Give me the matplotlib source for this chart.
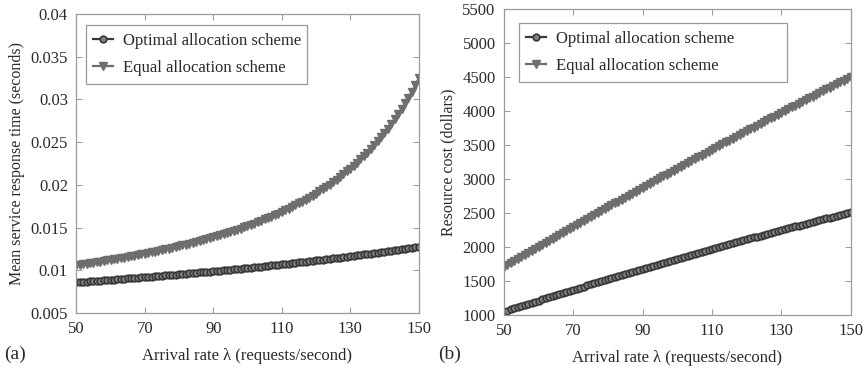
import numpy as np
import matplotlib.pyplot as plt

plt.rcParams['font.family'] = ['Liberation Serif', 'DejaVu Serif']

# arrival rate, one point per request/second
lam = np.arange(50, 151)

# mean service response time (seconds)
t_optimal = [0.008598, 0.008627, 0.008655, 0.008684, 0.008712, 0.008741, 0.008770, 0.008800, 0.008829, 0.008859,
             0.008889, 0.008919, 0.008949, 0.008980, 0.009011, 0.009042, 0.009073, 0.009104, 0.009136, 0.009168,
             0.009200, 0.009232, 0.009264, 0.009297, 0.009330, 0.009363, 0.009397, 0.009430, 0.009464, 0.009498,
             0.009533, 0.009568, 0.009603, 0.009638, 0.009673, 0.009709, 0.009745, 0.009781, 0.009817, 0.009854,
             0.009891, 0.009929, 0.009966, 0.010004, 0.010042, 0.010081, 0.010119, 0.010158, 0.010198, 0.010238,
             0.010277, 0.010318, 0.010358, 0.010399, 0.010441, 0.010482, 0.010524, 0.010566, 0.010609, 0.010652,
             0.010695, 0.010739, 0.010783, 0.010827, 0.010872, 0.010917, 0.010963, 0.011008, 0.011055, 0.011101,
             0.011148, 0.011196, 0.011244, 0.011292, 0.011340, 0.011390, 0.011439, 0.011489, 0.011539, 0.011590,
             0.011641, 0.011693, 0.011745, 0.011798, 0.011851, 0.011905, 0.011959, 0.012013, 0.012069, 0.012124,
             0.012180, 0.012237, 0.012294, 0.012352, 0.012410, 0.012469, 0.012528, 0.012588, 0.012649, 0.012710,
             0.012771]
t_equal = [0.010604, 0.010661, 0.010719, 0.010777, 0.010837, 0.010897, 0.010959, 0.011021, 0.011085, 0.011149,
           0.011215, 0.011282, 0.011350, 0.011419, 0.011490, 0.011561, 0.011634, 0.011708, 0.011784, 0.011861,
           0.011939, 0.012018, 0.012100, 0.012182, 0.012266, 0.012352, 0.012440, 0.012529, 0.012620, 0.012712,
           0.012807, 0.012903, 0.013001, 0.013101, 0.013203, 0.013307, 0.013414, 0.013522, 0.013633, 0.013746,
           0.013862, 0.013980, 0.014101, 0.014224, 0.014350, 0.014479, 0.014611, 0.014745, 0.014883, 0.015024,
           0.015169, 0.015317, 0.015468, 0.015623, 0.015782, 0.015945, 0.016112, 0.016283, 0.016458, 0.016639,
           0.016824, 0.017013, 0.017208, 0.017409, 0.017615, 0.017827, 0.018044, 0.018268, 0.018499, 0.018736,
           0.018981, 0.019233, 0.019492, 0.019761, 0.020037, 0.020323, 0.020618, 0.020922, 0.021237, 0.021563,
           0.021901, 0.022250, 0.022613, 0.022989, 0.023379, 0.023783, 0.024204, 0.024641, 0.025097, 0.025571,
           0.026065, 0.026581, 0.027119, 0.027682, 0.028272, 0.028889, 0.029535, 0.030213, 0.030926, 0.031677,
           0.032468]

# resource cost (dollars)
c_optimal = [1050, 1066, 1083, 1099, 1116, 1132, 1148, 1165, 1181, 1197,
             1213, 1229, 1245, 1261, 1277, 1293, 1309, 1325, 1341, 1357,
             1372, 1388, 1404, 1419, 1435, 1451, 1466, 1482, 1497, 1513,
             1528, 1543, 1559, 1574, 1589, 1604, 1619, 1634, 1650, 1665,
             1680, 1695, 1709, 1724, 1739, 1754, 1769, 1784, 1798, 1813,
             1828, 1842, 1857, 1871, 1886, 1900, 1914, 1929, 1943, 1957,
             1972, 1986, 2000, 2014, 2028, 2042, 2056, 2070, 2084, 2098,
             2112, 2126, 2140, 2153, 2167, 2181, 2194, 2208, 2221, 2235,
             2248, 2262, 2275, 2289, 2302, 2315, 2328, 2342, 2355, 2368,
             2381, 2394, 2407, 2420, 2433, 2446, 2459, 2472, 2485, 2497,
             2510]
c_equal = [1700, 1730, 1760, 1790, 1820, 1849, 1879, 1909, 1939, 1968,
           1998, 2028, 2057, 2087, 2116, 2145, 2175, 2204, 2234, 2263,
           2292, 2321, 2350, 2379, 2408, 2437, 2466, 2495, 2524, 2553,
           2582, 2611, 2640, 2668, 2697, 2725, 2754, 2783, 2811, 2840,
           2868, 2896, 2925, 2953, 2981, 3009, 3038, 3066, 3094, 3122,
           3150, 3178, 3206, 3234, 3262, 3289, 3317, 3345, 3373, 3400,
           3428, 3456, 3483, 3511, 3538, 3565, 3593, 3620, 3648, 3675,
           3702, 3729, 3756, 3783, 3810, 3837, 3864, 3891, 3918, 3945,
           3972, 3999, 4026, 4052, 4079, 4105, 4132, 4159, 4185, 4212,
           4238, 4264, 4291, 4317, 4343, 4370, 4396, 4422, 4448, 4474,
           4500]

x_ticks = [50, 70, 90, 110, 130, 150]
t_ticks = [0.005, 0.01, 0.015, 0.02, 0.025, 0.03, 0.035, 0.04]
t_ticklabels = ['0.005', '0.01', '0.015', '0.02', '0.025', '0.03', '0.035', '0.04']
c_ticks = [1000, 1500, 2000, 2500, 3000, 3500, 4000, 4500, 5000, 5500]

DARK = '#383838'
MID = '#6e6e6e'
TXT = '#2a2a2a'


def Panel(ax, y_opt, y_eq, ylabel, yticks, legbox, yticklabels=None):
    ax.plot(lam, y_opt, color=DARK, marker='o', markersize=4.8, mfc='#808080', mec=DARK,
            mew=1.2, linewidth=1.6, label='Optimal allocation scheme')
    ax.plot(lam, y_eq, color=MID, marker='v', markersize=6.3, mfc=MID, mec=MID,
            linewidth=1.6, label='Equal allocation scheme')
    ax.set_xlim(50, 150)
    ax.set_ylim(yticks[0], yticks[-1])
    ax.set_xticks(x_ticks)
    ax.set_yticks(yticks)
    if yticklabels is not None:
        ax.set_yticklabels(yticklabels)
    ax.tick_params(direction='in', top=True, right=True, length=4, width=0.6,
                   color='#888888', labelsize=12, labelcolor=TXT, pad=6)
    for s in ax.spines.values():
        s.set_color('#9a9a9a')
        s.set_linewidth(0.9)
    ax.set_xlabel('Arrival rate λ (requests/second)', fontsize=12, color=TXT, labelpad=8)
    ax.set_ylabel(ylabel, fontsize=11.5, color=TXT, labelpad=4)
    # legend stretched over a fixed box in axes coords
    leg = ax.legend(loc='upper left', fontsize=12, fancybox=False, framealpha=1,
                    handlelength=1.2, handletextpad=0.6, borderpad=0.45,
                    labelspacing=0.7, bbox_to_anchor=legbox, mode='expand',
                    borderaxespad=0, labelcolor=TXT)
    leg.get_frame().set_edgecolor('#9a9a9a')
    leg.get_frame().set_linewidth(0.9)


fig = plt.figure(figsize=(8.64, 3.68), dpi=100)
ax1 = fig.add_axes([0.0883, 0.1495, 0.3963, 0.8125])
ax2 = fig.add_axes([0.5833, 0.1440, 0.4013, 0.8315])

Panel(ax1, t_optimal, t_equal, 'Mean service response time (seconds)', t_ticks,
      (0.028, 0.5, 0.645, 0.463), t_ticklabels)
Panel(ax2, c_optimal, c_equal, 'Resource cost (dollars)', c_ticks,
      (0.043, 0.5, 0.773, 0.454))

fig.text(0.005, 0.024, '(a)', fontsize=14, color=TXT)
fig.text(0.507, 0.024, '(b)', fontsize=14, color=TXT)

fig.savefig('out.png', dpi=100)
